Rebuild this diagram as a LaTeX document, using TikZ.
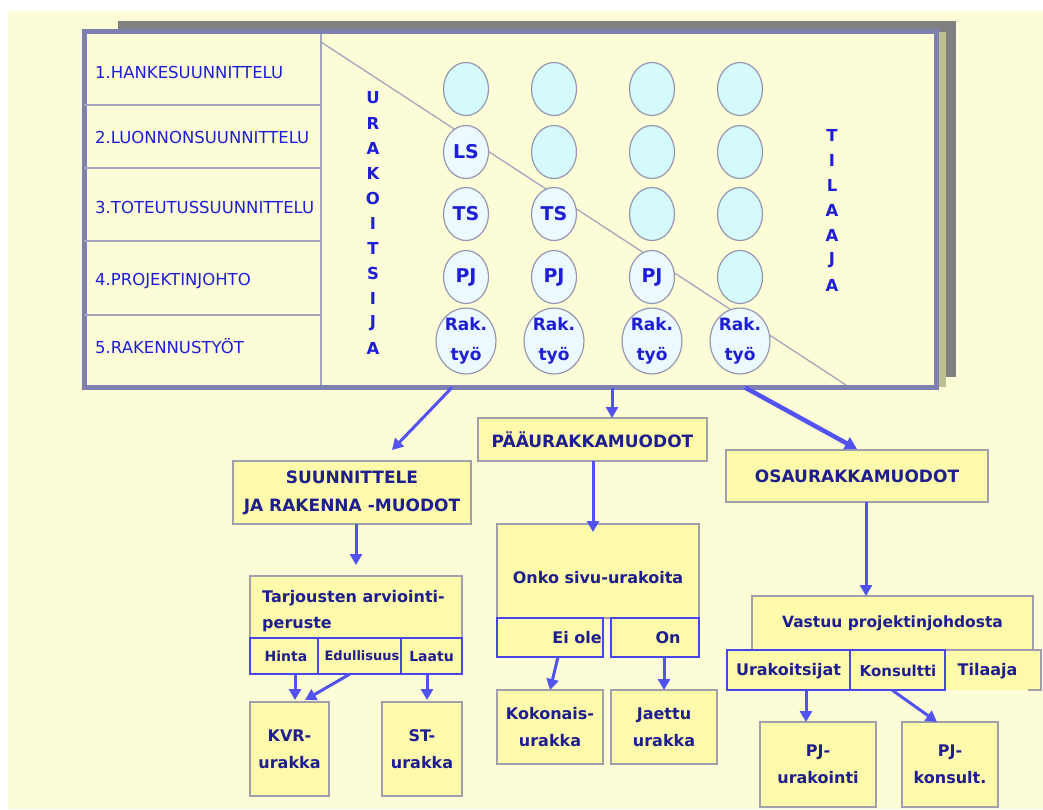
\documentclass[tikz,border=0pt]{standalone}
\usepackage{fontspec}
\setmainfont{DejaVu Sans}
\usetikzlibrary{arrows.meta,calc,shapes.geometric}

\definecolor{bgyellow}{RGB}{252,252,214}
\definecolor{boxfill}{RGB}{254,250,172}
\definecolor{boxline}{RGB}{160,160,172}
\definecolor{frameline}{RGB}{128,128,176}
\definecolor{shadowgray}{RGB}{128,128,128}
\definecolor{khaki}{RGB}{190,190,145}
\definecolor{gridline}{RGB}{165,165,190}
\definecolor{circfill}{RGB}{212,250,252}
\definecolor{circlight}{RGB}{236,250,255}
\definecolor{circline}{RGB}{150,150,180}
\definecolor{arrowblue}{RGB}{82,82,240}
\definecolor{txtblue}{RGB}{30,30,215}
\definecolor{navy}{RGB}{30,30,140}
\definecolor{cellblue}{RGB}{70,70,235}

\begin{document}
\begin{tikzpicture}[x=1pt,y=-1pt,
  rowlbl/.style={anchor=west,inner sep=0pt,text=txtblue,font=\fontsize{16.5}{18}\selectfont},
  vlet/.style={inner sep=0pt,text=txtblue,font=\bfseries\fontsize{16.5}{18}\selectfont},
  emptycirc/.style={ellipse,draw=circline,line width=1.2pt,fill=circfill,minimum width=45pt,minimum height=53pt,inner sep=0pt},
  labcirc/.style={emptycirc,fill=circlight,text=txtblue,font=\bfseries\fontsize{19}{22}\selectfont},
  rakcirc/.style={labcirc,align=center,font=\bfseries\fontsize{17}{30}\selectfont},
  box/.style={draw=boxline,line width=2.5pt,fill=boxfill,text=navy,inner sep=0pt,outer sep=0pt,align=center,font=\bfseries\fontsize{16}{27}\selectfont},
  headbox/.style={box,font=\bfseries\fontsize{17}{28}\selectfont},
  cell/.style={draw=cellblue,line width=1.5pt,fill=boxfill,inner sep=0pt,outer sep=0pt},
  celltext/.style={inner sep=0pt,text=navy,font=\bfseries\fontsize{13.5}{16}\selectfont},
  bigcelltext/.style={celltext,font=\bfseries\fontsize{16}{18}\selectfont},
  arr/.style={draw=arrowblue,line width=3pt,-{Triangle[length=11pt,width=12pt]}},
  thickarr/.style={arr,line width=4.5pt,-{Triangle[length=12pt,width=13pt]}},
  grid/.style={draw=gridline,line width=1.5pt}
]
\useasboundingbox (0,0) rectangle (1043,809);
\fill[white] (0,0) rectangle (1043,809);
\fill[bgyellow] (8,11) rectangle (1043,809);

% stacked panels behind the matrix
\fill[shadowgray] (118,21) rectangle (956,377);
\fill[khaki] (939,32) rectangle (946,387);
\node[draw=frameline,line width=5pt,fill=bgyellow,minimum width=852pt,minimum height=356pt,inner sep=0pt,outer sep=0pt] (mainbox) at (510.5,209.5) {};

% phase rows
\draw[grid] (84,105) -- (321,105);
\draw[grid] (84,168) -- (321,168);
\draw[grid] (84,241) -- (321,241);
\draw[grid] (84,315) -- (321,315);
\draw[grid] (321,34) -- (321,385);
\draw[draw=gridline,line width=1.3pt] (321,42) -- (846,385);

\node[rowlbl] (r1) at (95,72) {1.HANKESUUNNITTELU};
\node[rowlbl] (r2) at (95,137) {2.LUONNONSUUNNITTELU};
\node[rowlbl] (r3) at (95,207) {3.TOTEUTUSSUUNNITTELU};
\node[rowlbl] (r4) at (95,281) {4.PROJEKTINJOHTO};
\node[rowlbl] (r5) at (95,346) {5.RAKENNUSTYÖT};

% side captions
\foreach \l [count=\i from 0] in {U,R,A,K,O,I,T,S,I,J,A}
  \node[vlet] (ur\i) at (373,98+25*\i) {\l};
\foreach \l [count=\i from 0] in {T,I,L,A,A,J,A}
  \node[vlet] (ti\i) at (832,135+25*\i) {\l};

% responsibility matrix
\node[emptycirc] (c11) at (466,89) {};
\node[emptycirc] (c12) at (554,89) {};
\node[emptycirc] (c13) at (652,89) {};
\node[emptycirc] (c14) at (740,89) {};
\node[labcirc]   (c21) at (466,152) {LS};
\node[emptycirc] (c22) at (554,152) {};
\node[emptycirc] (c23) at (652,152) {};
\node[emptycirc] (c24) at (740,152) {};
\node[labcirc]   (c31) at (466,214) {TS};
\node[labcirc]   (c32) at (554,214) {TS};
\node[emptycirc] (c33) at (652,214) {};
\node[emptycirc] (c34) at (740,214) {};
\node[labcirc]   (c41) at (466,277) {PJ};
\node[labcirc]   (c42) at (554,277) {PJ};
\node[labcirc]   (c43) at (652,277) {PJ};
\node[emptycirc] (c44) at (740,277) {};
\node[rakcirc]   (c51) at (466,341) {Rak.\\työ};
\node[rakcirc]   (c52) at (554,341) {Rak.\\työ};
\node[rakcirc]   (c53) at (652,341) {Rak.\\työ};
\node[rakcirc]   (c54) at (740,341) {Rak.\\työ};

% design and build branch
\node[headbox,minimum width=238pt,minimum height=63pt] (sr) at (352,492.5) {SUUNNITTELE\\JA RAKENNA -MUODOT};
\node[box,minimum width=212pt,minimum height=62pt] (tarj) at (356,607) {};
\node[celltext,anchor=west,align=left,font=\bfseries\fontsize{16}{26}\selectfont] (tarjt) at (262,611) {Tarjousten arviointi-\\peruste};
\node[cell,minimum width=68pt,minimum height=36pt] (hinta) at (284,656) {};
\node[cell,minimum width=83pt,minimum height=36pt] (edul) at (359.5,656) {};
\node[cell,minimum width=61pt,minimum height=36pt] (laatu) at (431.5,656) {};
\node[celltext,font=\bfseries\fontsize{14}{16}\selectfont] (hintat) at (286,656) {Hinta};
\node[celltext,font=\bfseries\fontsize{13}{16}\selectfont] (edult) at (362,656) {Edullisuus};
\node[celltext,font=\bfseries\fontsize{14}{16}\selectfont] (laatut) at (431.5,656) {Laatu};
\node[box,minimum width=79pt,minimum height=94pt] (kvr) at (289.5,749) {KVR-\\urakka};
\node[box,minimum width=80pt,minimum height=94pt] (st) at (422,749) {ST-\\urakka};

% main contract branch
\node[headbox,minimum width=229pt,minimum height=43pt] (paa) at (592.5,439.5) {PÄÄURAKKAMUODOT};
\node[box,minimum width=202pt,minimum height=94pt] (onko) at (598,571) {};
\node[bigcelltext] (onkot) at (598,578) {Onko sivu-urakoita};
\node[cell,minimum width=106pt,minimum height=39pt] (eiole) at (550,637.5) {};
\node[cell,minimum width=88pt,minimum height=39pt] (on) at (655,637.5) {};
\node[bigcelltext] (eiolet) at (577,637.5) {Ei ole};
\node[bigcelltext] (ont) at (668,637.5) {On};
\node[box,minimum width=106pt,minimum height=74pt] (koko) at (550,727) {Kokonais-\\urakka};
\node[box,minimum width=106pt,minimum height=74pt] (jaettu) at (664,727) {Jaettu\\urakka};

% separate contract branch
\node[headbox,minimum width=262pt,minimum height=52pt] (osa) at (857,476) {OSAURAKKAMUODOT};
\node[box,minimum width=281pt,minimum height=54pt,font=\bfseries\fontsize{15.5}{18}\selectfont] (vastuu) at (892.5,623) {Vastuu projektinjohdosta};
\node[fill=boxfill,minimum width=96pt,minimum height=40pt,inner sep=0pt,outer sep=0pt] (tilaaja) at (993,670) {};
\draw[draw=boxline,line width=2pt] (tilaaja.north west) -- (tilaaja.north east) -- (tilaaja.south east) -- ++(-13,0);
\node[bigcelltext] (tilaajat) at (987.5,671) {Tilaaja};
\node[cell,minimum width=123pt,minimum height=40pt] (urak) at (788.5,670) {};
\node[cell,minimum width=95pt,minimum height=40pt] (kons) at (897.5,670) {};
\node[bigcelltext] (urakt) at (788.5,671) {Urakoitsijat};
\node[bigcelltext,font=\bfseries\fontsize{15}{18}\selectfont] (konst) at (898,671) {Konsultti};
\node[box,minimum width=116pt,minimum height=85pt] (pjur) at (818,764.5) {PJ-\\urakointi};
\node[box,minimum width=96pt,minimum height=85pt] (pjko) at (950,764.5) {PJ-\\konsult.};

% connectors
\draw[arr] ([xshift=367.5pt]mainbox.south west) -- ([xshift=40pt,yshift=11pt]sr.north);
\draw[arr] ([xshift=527.5pt]mainbox.south west) -- ([xshift=19.5pt]paa.north);
\draw[thickarr] ([xshift=660.5pt]mainbox.south west) -- ([yshift=1pt]osa.north);

\draw[arr] ([xshift=4pt]sr.south) -- ([yshift=11pt]tarj.north);
\draw[arr] ([xshift=11pt]hinta.south) -- ([xshift=5.5pt,yshift=2pt]kvr.north);
\draw[arr] ([xshift=-9.5pt]edul.south) -- ([xshift=15.5pt,yshift=2pt]kvr.north);
\draw[arr] ([xshift=-4.5pt]laatu.south) -- ([xshift=5pt,yshift=2pt]st.north);

\draw[arr] ([xshift=0.5pt]paa.south) -- ([xshift=-5pt,yshift=-8pt]onko.north);
\draw[arr] ([xshift=8pt]eiole.south) -- (koko.north);
\draw[arr] ([xshift=9pt]on.south) -- (jaettu.north);

\draw[arr] ([xshift=9pt]osa.south) -- ([xshift=-26.5pt]vastuu.north);
\draw[arr] ([xshift=17.5pt]urak.south) -- ([xshift=-12pt]pjur.north);
\draw[arr] ([xshift=-5.5pt]kons.south) -- ([xshift=-13pt]pjko.north);
\end{tikzpicture}
\end{document}
